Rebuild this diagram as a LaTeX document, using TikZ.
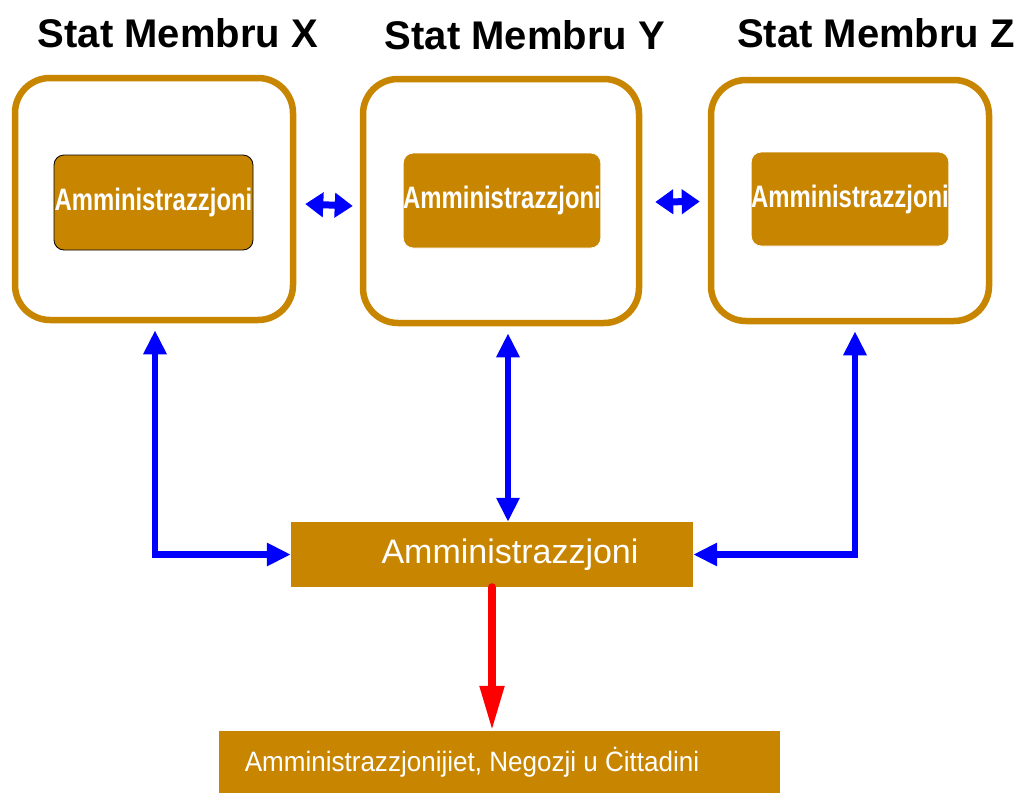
\documentclass[tikz,border=0pt]{standalone}
\usepackage{fontspec}
\setmainfont{Liberation Sans}
\newfontfamily\narrowfont[FakeStretch=0.77]{Liberation Sans}
\newfontfamily\slimfont[FakeStretch=0.93]{Liberation Sans}
\usetikzlibrary{arrows.meta,calc}
\definecolor{gold}{RGB}{200,133,0}
\tikzset{
  title/.style={font=\bfseries\fontsize{40}{46}\selectfont, inner sep=0pt},
  outerbox/.style={draw=gold, line width=6.5pt, rounded corners=35pt, fill=white, inner sep=0pt},
  innerbox/.style={fill=gold, rounded corners=10pt, text=white, inner sep=0pt, minimum width=197pt, minimum height=95pt, font=\narrowfont\bfseries\fontsize{31}{36}\selectfont},
  flatbox/.style={fill=gold, text=white, inner sep=0pt},
  bluearr/.style={draw=blue, line width=6.5pt, {Triangle[length=24pt,width=22pt]}-{Triangle[length=24pt,width=22pt]}},
  smallarr/.style={draw=blue, line width=7pt, {Triangle[length=18pt,width=24pt]}-{Triangle[length=18pt,width=24pt]}},
  redarr/.style={draw=red, line width=8pt, line cap=round, -{Triangle[length=45pt,width=23pt]}}
}
\begin{document}
\begin{tikzpicture}[x=1pt,y=-1pt]
\useasboundingbox (0,0) rectangle (1017,793);
% titles
\node[title] (tX) at (178,33) {Stat Membru X};
\node[title] (tY) at (525,35) {Stat Membru Y};
\node[title] (tZ) at (876,33) {Stat Membru Z};
% outer boxes
\node[outerbox, minimum width=278pt, minimum height=242pt] (oX) at (154,199) {};
\node[outerbox, minimum width=276pt, minimum height=244pt] (oY) at (501,201) {};
\node[outerbox, minimum width=278pt, minimum height=241pt] (oZ) at (850,200.5) {};
% inner boxes
\node[innerbox, draw=black, line width=0.8pt, minimum width=199pt] (iX) at (153.5,202.5) {Amministrazzjoni};
\node[innerbox, draw=white, line width=0.8pt, minimum width=196pt] (iY) at (502,200.5) {Amministrazzjoni};
\node[innerbox, draw=white, line width=0.8pt, minimum width=196pt, minimum height=94pt] (iZ) at (850,199) {Amministrazzjoni};
% central box
\node[flatbox, minimum width=402pt, minimum height=65pt, font=\fontsize{34}{39}\selectfont] (c) at (492,554.5) {\hspace*{36pt}Amministrazzjoni};
% bottom box
\node[flatbox, minimum width=561pt, minimum height=62pt, font=\slimfont\fontsize{28}{32}\selectfont] (b) at (499.5,762) {Amministrazzjonijiet, Negozji u Ċittadini\hspace*{55pt}};
% horizontal small arrows
\draw[smallarr] ([shift={(9pt,-5pt)}]oX.east) -- ([shift={(-7pt,-5pt)}]oY.west);
\draw[smallarr] ([shift={(13pt,-1pt)}]oY.east) -- ([shift={(-8pt,-1pt)}]oZ.west);
% connectors to central
\coordinate (xtop) at ($(oX.south)+(1,7)$);
\draw[bluearr] (xtop) |- (c.west);
\coordinate (ytop) at ($(oY.south)+(7,7)$);
\draw[bluearr] (ytop) -- (ytop |- c.north);
\coordinate (ztop) at ($(oZ.south)+(5,7)$);
\draw[bluearr] (ztop) |- (c.east);
% red arrow
\draw[redarr] (c.south) -- (c.south |- b.north);
\end{tikzpicture}
\end{document}
